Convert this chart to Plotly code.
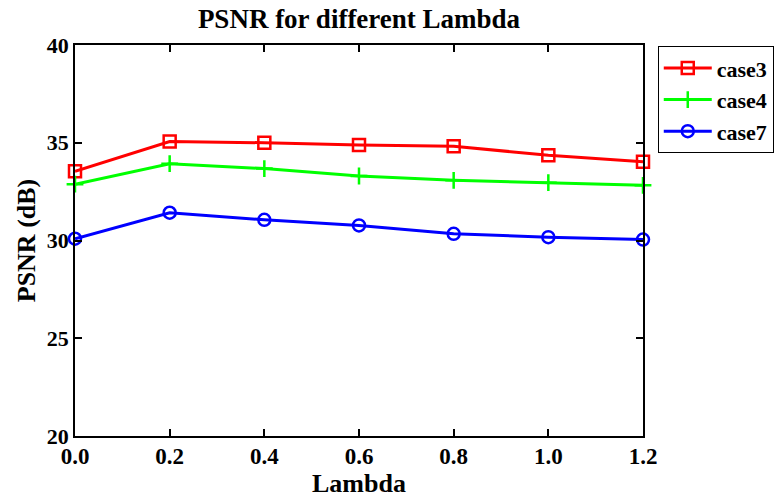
import plotly.graph_objects as go

lambdas = [0.0, 0.2, 0.4, 0.6, 0.8, 1.0, 1.2]
case3 = [33.54, 35.06, 35.00, 34.88, 34.82, 34.36, 34.03]
case4 = [32.88, 33.93, 33.68, 33.30, 33.08, 32.96, 32.82]
case7 = [30.09, 31.42, 31.06, 30.77, 30.34, 30.17, 30.05]

FONT = "Liberation Serif"

fig = go.Figure()
series = [
    ("case3", case3, "#ff0000", "square-open"),
    ("case4", case4, "#00ff00", "cross-thin-open"),
    ("case7", case7, "#0000ff", "circle-open"),
]
for name, vals, col, sym in series:
    fig.add_trace(go.Scatter(
        x=lambdas, y=vals, name=name, mode="lines+markers",
        line=dict(color=col, width=3),
        marker=dict(symbol=sym, size=12, color=col, line=dict(color=col, width=2.5)),
        cliponaxis=False,
    ))

axis_common = dict(
    showline=True, linecolor="black", linewidth=1.5, mirror="ticks",
    ticks="inside", ticklen=7, tickwidth=1.5, tickcolor="black",
    showgrid=False, zeroline=False,
)

fig.update_layout(
    width=778, height=502,
    margin=dict(l=75, r=135, t=45, b=66, autoexpand=False),
    paper_bgcolor="white", plot_bgcolor="white",
    font=dict(family=FONT, color="black"),
    title=dict(text="<b>PSNR for different Lambda</b>", x=0.5, xref="paper",
               xanchor="center", y=0.963, yanchor="middle",
               font=dict(family=FONT, size=27, color="black")),
    xaxis=dict(range=[0, 1.2], tickvals=lambdas, ticktext=[f"{v:.1f}" for v in lambdas],
               ticklabelstandoff=-1,
               tickfont=dict(family=FONT, size=23, color="black", weight="bold"),
               title=dict(text="<b>Lambda</b>", font=dict(family=FONT, size=26), standoff=1),
               **axis_common),
    yaxis=dict(range=[20, 40], tickvals=[20, 25, 30, 35, 40],
               tickfont=dict(family=FONT, size=22, color="black", weight="bold"),
               title=dict(text="<b>PSNR (dB)</b>", font=dict(family=FONT, size=26), standoff=4),
               **axis_common),
    legend=dict(x=1.026, y=0.997, xanchor="left", yanchor="top",
                bordercolor="black", borderwidth=1, bgcolor="white",
                font=dict(family=FONT, size=22, color="black", weight="bold"),
                itemwidth=48, tracegroupgap=0),
    showlegend=True,
)

fig.write_html("out.html")
